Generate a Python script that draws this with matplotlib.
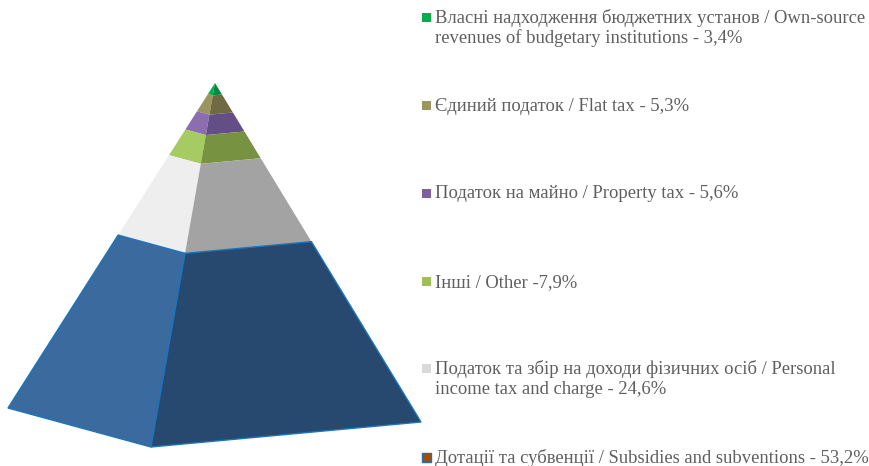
# librerías
import numpy as np
import matplotlib
matplotlib.use('Agg')
import matplotlib.pyplot as plt

# datos (de la punta a la base)
labels = [
    'Власні надходження бюджетних установ / Own-source\nrevenues of budgetary institutions - 3,4%',
    'Єдиний податок / Flat tax - 5,3%',
    'Податок на майно / Property tax - 5,6%',
    'Інші / Other -7,9%',
    'Податок та збір на доходи фізичних осіб / Personal\nincome tax and charge - 24,6%',
    'Дотації та субвенції / Subsidies and subventions - 53,2%',
]
values = [3.4, 5.3, 5.6, 7.9, 24.6, 53.2]

# colores
clr_left = ['#00B050', '#9C9560', '#8C6DB0', '#A6CB63', '#EEEEEE', '#3B6A9E']
clr_right = ['#008A3E', '#6F6A44', '#634E85', '#779240', '#A3A3A3', '#27486F']
clr_key = ['#00B050', '#9C9560', '#7E5FA0', '#A0BF5C', '#D9D9D9', '#9C4F0E']
clr_text = '#5F5F5F'

# geometría de la pirámide en píxeles
apex = np.array([215, 83])
left = np.array([8, 408])
front = np.array([151, 447])
right = np.array([421, 422])

# posiciones de la leyenda
key_y = [17.5, 105, 193, 281, 368.5, 457]
text_y = [23, 111, 198.5, 287, 374, 463]

fig, ax = plt.subplots(1, 1, figsize=(8.7, 4.66), dpi=100)
fig.patch.set_facecolor('white')
ax.set_position([0, 0, 1, 1])
ax.set_xlim(0, 870); ax.set_ylim(466, 0)
ax.axis('off')

cum = np.cumsum(values) / 100
cum = np.concatenate(([0], cum / cum[-1]))

for i in range(len(values)):
    t0, t1 = cum[i], cum[i+1]
    pl0, pl1 = apex + t0*(left - apex), apex + t1*(left - apex)
    pf0, pf1 = apex + t0*(front - apex), apex + t1*(front - apex)
    pr0, pr1 = apex + t0*(right - apex), apex + t1*(right - apex)
    # el tramo azul lleva borde fino
    ec = '#1B75BC' if i == len(values) - 1 else 'none'
    lw = 1.0 if i == len(values) - 1 else 0
    ax.fill([pl0[0], pf0[0], pf1[0], pl1[0]], [pl0[1], pf0[1], pf1[1], pl1[1]],
            facecolor=clr_left[i], edgecolor=ec, linewidth=lw, zorder=2)
    ax.fill([pf0[0], pr0[0], pr1[0], pf1[0]], [pf0[1], pr0[1], pr1[1], pf1[1]],
            facecolor=clr_right[i], edgecolor=ec, linewidth=lw, zorder=2)

# leyenda
for i, lab in enumerate(labels):
    ec = '#1F6FB5' if i == len(labels) - 1 else 'none'
    ax.fill([422, 431, 431, 422],
            [key_y[i]-4.5, key_y[i]-4.5, key_y[i]+4.5, key_y[i]+4.5],
            facecolor=clr_key[i], edgecolor=ec, linewidth=1.0)
    for j, line in enumerate(lab.split('\n')):
        ax.text(435, text_y[i] + 20*j, line, family='Liberation Serif', fontsize=13.4,
                color=clr_text, va='baseline', ha='left')

plt.savefig('out.png', dpi=100, facecolor='white')
